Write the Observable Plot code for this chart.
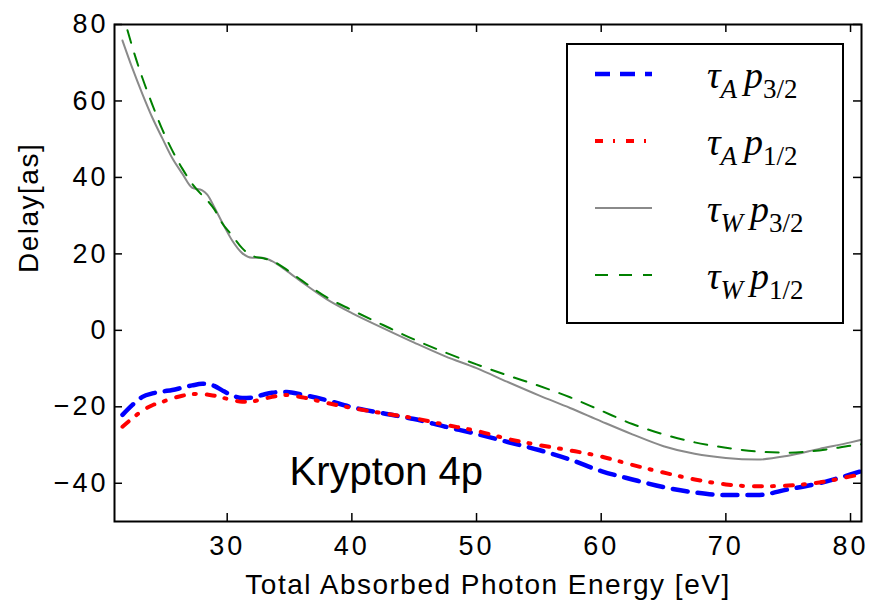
<!DOCTYPE html>
<html><head><meta charset="utf-8">
<script src="https://cdn.jsdelivr.net/npm/d3@7"></script>
<script src="https://cdn.jsdelivr.net/npm/@observablehq/plot@0.6"></script>
<style>
body{margin:0;background:#fff;}
#wrap{position:relative;width:873px;height:603px;}
#wrap svg.legend{position:absolute;left:0;top:0;pointer-events:none;}
</style></head><body><div id="wrap"></div>
<script>
// Photon energy grid [eV]
const energy = [21.6, 22.4, 23.2, 24, 24.8, 25.6, 26.4, 27.2, 28, 28.4, 29, 29.6, 30.4, 31.2, 32, 32.8, 33.6, 34.8, 36, 38, 40, 42.5, 45, 47.5, 50, 52.5, 55, 57.5, 60, 62.5, 65, 67.5, 70, 72.5, 75, 77.5, 80, 80.9];
const energyW12 = [22.0, 22.4, 23.2, 24, 24.8, 25.6, 26.4, 27.2, 28, 28.4, 29, 29.6, 30.4, 31.2, 32, 32.8, 33.6, 34.8, 36, 38, 40, 42.5, 45, 47.5, 50, 52.5, 55, 57.5, 60, 62.5, 65, 67.5, 70, 72.5, 75, 77.5, 80, 80.9];
// Delays [as]
const tauA_p32 = [-22.1, -19.5, -17.4, -16.5, -16, -15.6, -15, -14.4, -14, -14, -14.6, -15.7, -17, -17.7, -17.6, -16.9, -16.3, -16.1, -16.8, -18.3, -20.1, -21.7, -23.2, -25.2, -27.1, -29.2, -31.3, -33.8, -36.8, -39, -41, -42.4, -43.1, -43.1, -41.6, -40, -37.7, -36.8];
const tauA_p12 = [-25.2, -23, -21, -19.6, -18.7, -17.8, -17.1, -16.7, -16.6, -16.8, -17.1, -17.6, -18.2, -18.7, -18.6, -18, -17.4, -16.9, -17.5, -19, -20.3, -21.7, -23, -24.7, -26.3, -28.4, -30, -31.4, -33, -35.2, -37.2, -39, -40.3, -40.8, -40.6, -39.8, -38.2, -37.6];
const tauW_p32 = [75.8, 68.5, 61.8, 55.6, 50.2, 45, 41, 37.3, 36.6, 35.5, 32, 28.2, 23.5, 20.2, 19.0, 19.0, 18.1, 15.5, 12.6, 8.1, 4.5, 0.6, -3.2, -6.8, -9.9, -13.5, -17, -20.3, -23.8, -27.2, -30.3, -32.3, -33.4, -33.8, -32.8, -31, -29.3, -28.6];
const tauW_p12 = [78.5, 74, 66, 59, 52.5, 47, 42.3, 38.3, 35.3, 34, 31.5, 28, 24.8, 21.5, 19.5, 18.9, 18.2, 15.8, 13, 8.6, 5.3, 1.4, -2.4, -5.8, -8.9, -11.8, -14.5, -17.5, -21, -24.5, -27.2, -29.3, -30.7, -31.7, -32, -31.4, -30.2, -29.8];

const xTicks = [30, 40, 50, 60, 70, 80];
const yTicks = [-40, -20, 0, 20, 40, 60, 80];
const xLabel = "Total Absorbed Photon Energy [eV]";
const yLabel = "Delay[as]";
const annotation = "Krypton 4p";
const seriesNames = ["τA p3/2", "τA p1/2", "τW p3/2", "τW p1/2"];

const W = 873, H = 603, mL = 114, mR = 12, mT = 24, mB = 82;
const innerW = W - mL - mR, innerH = H - mT - mB;
const tick = 8;

const series = [
  {xs: energy, ys: tauA_p32, stroke: "#0000ff", w: 4.5, dash: "15,10", sub: "A", p: "3/2"},
  {xs: energy, ys: tauA_p12, stroke: "#ff0000", w: 4, dash: "8,10,2,11", sub: "A", p: "1/2"},
  {xs: energy, ys: tauW_p32, stroke: "#8a8a8a", w: 2, dash: null, sub: "W", p: "3/2"},
  {xs: energyW12, ys: tauW_p12, stroke: "#008000", w: 2, dash: "13,11", sub: "W", p: "1/2"}
];

const lineMarks = series.map(s => Plot.line(s.xs.map((x, i) => ({x, y: s.ys[i]})), {
  x: "x", y: "y", stroke: s.stroke, strokeWidth: s.w, strokeDasharray: s.dash,
  curve: "monotone-x", clip: true
}));

const chart = Plot.plot({
  width: W, height: H,
  marginLeft: mL, marginRight: mR, marginTop: mT, marginBottom: mB,
  style: {fontFamily: "'Liberation Sans', Arial, sans-serif", fontSize: "26px", color: "black", background: "white"},
  x: {domain: [20.96, 80.88]},
  y: {domain: [-50, 80]},
  marks: [
    ...lineMarks,
    Plot.text([annotation], {x: 35.0, y: -40.5, text: d => d, textAnchor: "start", lineAnchor: "bottom", fontSize: 40, fill: "black"}),
    Plot.ruleX(xTicks, {x: d => d, insetTop: innerH - tick, stroke: "black", strokeWidth: 1.5}),
    Plot.ruleX(xTicks, {x: d => d, insetBottom: innerH - tick, stroke: "black", strokeWidth: 1.5}),
    Plot.ruleY(yTicks, {y: d => d, insetRight: innerW - tick, stroke: "black", strokeWidth: 1.5}),
    Plot.ruleY(yTicks, {y: d => d, insetLeft: innerW - tick, stroke: "black", strokeWidth: 1.5}),
    Plot.axisX(xTicks, {anchor: "bottom", tickSize: 0, tickPadding: 14, label: null, fontSize: 27}),
    Plot.axisY(yTicks, {anchor: "left", tickSize: 0, tickPadding: 6, label: null, fontSize: 27}),
    Plot.text([xLabel], {frameAnchor: "bottom", dy: 72, text: d => d, lineAnchor: "bottom", fontSize: 28, fill: "black"}),
    Plot.text([yLabel], {frameAnchor: "left", dx: -85, text: d => d, rotate: -90, lineAnchor: "middle", fontSize: 28, fill: "black"}),
    Plot.frame({stroke: "black", strokeWidth: 2})
  ]
});

const wrap = document.getElementById("wrap");
wrap.appendChild(chart);

// typographic tweaks: tick labels and axis labels
d3.select(chart).selectAll("text").each(function() {
  const el = d3.select(this);
  const t = el.text();
  if (/^[−\-]?\d+$/.test(t)) el.style("font-size", "27px").style("letter-spacing", "3px");
  else if (t === xLabel || t === yLabel) el.style("letter-spacing", "1.5px");
});

// Legend overlay
const lg = d3.select(wrap).append("svg").attr("class", "legend").attr("width", W).attr("height", H);
lg.append("rect").attr("x", 567).attr("y", 44).attr("width", 276).attr("height", 279)
  .attr("fill", "white").attr("stroke", "black").attr("stroke-width", 2);
const rowY = [74, 141, 208, 275];
series.forEach((s, i) => {
  const y = rowY[i];
  lg.append("line").attr("x1", 595).attr("x2", 652).attr("y1", y).attr("y2", y)
    .attr("stroke", s.stroke).attr("stroke-width", s.w).attr("stroke-dasharray", s.dash);
  const t = lg.append("text").attr("x", 707).attr("y", y + 14)
    .attr("font-family", "'Liberation Serif', 'DejaVu Serif', serif").attr("font-size", 38).attr("font-style", "italic")
    .attr("aria-label", seriesNames[i]);
  t.append("tspan").text("τ");
  t.append("tspan").attr("font-size", 27).attr("dy", 10).text(s.sub);
  t.append("tspan").attr("dy", -10).attr("dx", 7).text("p");
  t.append("tspan").attr("font-size", 27).attr("dy", 10).attr("font-style", "normal").text(s.p);
});
</script>
</body></html>
